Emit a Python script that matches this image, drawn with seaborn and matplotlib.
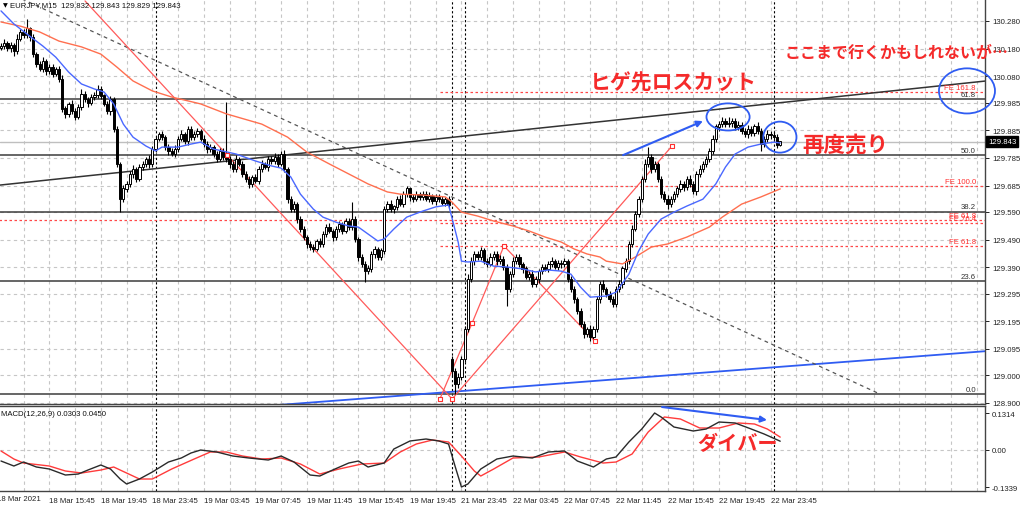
import numpy as np
import matplotlib
matplotlib.use("Agg")
import matplotlib.pyplot as plt
import matplotlib.transforms as mtrans
from matplotlib.patches import Ellipse
import seaborn as sns

# ---------------- data (EURJPY M15, bar index 0 = 18 Mar 12:00) ----------------
close = [
    130.189, 130.200, 130.182, 130.193, 130.171,
    130.214, 130.240, 130.229, 130.251, 130.222,
    130.160, 130.124, 130.106, 130.135, 130.099,
    130.113, 130.088, 130.106, 130.070, 129.962,
    129.944, 129.980, 129.954, 129.933, 129.969,
    130.016, 129.998, 129.983, 130.005, 130.012,
    130.034, 130.009, 129.980, 129.954, 129.998,
    129.889, 129.763, 129.636, 129.673, 129.691,
    129.727, 129.745, 129.709, 129.752, 129.763,
    129.781, 129.763, 129.817, 129.853, 129.871,
    129.860, 129.824, 129.810, 129.799, 129.817,
    129.853, 129.871, 129.846, 129.889, 129.860,
    129.871, 129.882, 129.853, 129.835, 129.817,
    129.824, 129.799, 129.781, 129.810, 129.788,
    129.781, 129.763, 129.745, 129.781, 129.763,
    129.727, 129.709, 129.691, 129.716, 129.701,
    129.745, 129.763, 129.752, 129.781, 129.774,
    129.788, 129.763, 129.799, 129.745, 129.636,
    129.600, 129.618, 129.564, 129.528, 129.499,
    129.474, 129.463, 129.456, 129.485, 129.474,
    129.510, 129.535, 129.521, 129.499, 129.528,
    129.546, 129.521, 129.557, 129.535, 129.564,
    129.492, 129.427, 129.402, 129.376, 129.384,
    129.438, 129.456, 129.427, 129.449, 129.600,
    129.618, 129.600, 129.608, 129.636, 129.618,
    129.654, 129.673, 129.644, 129.636, 129.654,
    129.644, 129.654, 129.636, 129.647, 129.629,
    129.644, 129.636, 129.622, 129.636, 129.615,
    129.015, 128.968, 128.993, 129.058, 129.167,
    129.347, 129.412, 129.438, 129.427, 129.449,
    129.412, 129.402, 129.427, 129.438, 129.412,
    129.420, 129.391, 129.311, 129.365, 129.412,
    129.427, 129.402, 129.384, 129.355, 129.365,
    129.329, 129.347, 129.376, 129.391, 129.384,
    129.402, 129.412, 129.391, 129.405, 129.402,
    129.412, 129.347, 129.311, 129.275, 129.232,
    129.185, 129.149, 129.167, 129.138, 129.167,
    129.275, 129.329, 129.311, 129.293, 129.275,
    129.257, 129.311, 129.329, 129.384, 129.412,
    129.474, 129.528, 129.582, 129.636, 129.709,
    129.763, 129.788, 129.745, 129.763, 129.709,
    129.654, 129.636, 129.618, 129.636, 129.654,
    129.673, 129.691, 129.680, 129.709, 129.691,
    129.665, 129.727, 129.745, 129.763, 129.781,
    129.810, 129.853, 129.897, 129.907, 129.918,
    129.907, 129.911, 129.918, 129.897, 129.904,
    129.882, 129.871, 129.889, 129.875, 129.897,
    129.882, 129.835, 129.853, 129.871, 129.868,
    129.860, 129.832, 129.843,
]
wick_hi = [
    .010, .015, .008, .012, .006, .020, .012, .010, .036, .008,
    .012, .008, .010, .015, .006, .010, .012, .008, .010, .014,
    .012, .008, .015, .010, .012, .018, .010, .008, .012, .010,
    .014, .010, .008, .012, .010, .006, .012, .008, .015, .010,
    .012, .016, .008, .010, .012, .006, .014, .010, .012, .008,
    .010, .008, .012, .010, .014, .010, .016, .008, .012, .010,
    .012, .010, .008, .014, .010, .012, .008, .010, .012, .010,
    .199, .012, .010, .014, .008, .010, .012, .010, .008, .012,
    .010, .014, .008, .012, .010, .016, .010, .012, .014, .008,
    .010, .012, .008, .010, .012, .008, .010, .012, .008, .010,
    .012, .010, .014, .008, .012, .010, .008, .012, .010, .061,
    .010, .008, .012, .010, .014, .010, .012, .008, .010, .012,
    .010, .014, .008, .012, .016, .010, .012, .008, .010, .012,
    .008, .012, .010, .014, .008, .010, .012, .010, .008, .012,
    .010, .012, .015, .010, .012, .020, .015, .012, .010, .014,
    .012, .010, .015, .012, .010, .014, .012, .010, .012, .015,
    .010, .012, .008, .012, .010, .014, .012, .008, .010, .012,
    .010, .014, .008, .012, .010, .012, .008, .010, .012, .008,
    .010, .012, .008, .014, .010, .012, .010, .014, .008, .010,
    .012, .010, .014, .010, .012, .010, .014, .012, .010, .012,
    .018, .036, .010, .012, .008, .012, .010, .014, .010, .012,
    .010, .014, .012, .010, .016, .012, .010, .014, .012, .010,
    .012, .014, .010, .012, .014, .010, .022, .012, .010, .014,
    .010, .012, .014, .010, .012, .016, .010, .012, .014, .010,
    .012, .010, .000,
]
wick_lo = [
    .008, .012, .010, .015, .018, .010, .008, .012, .010, .014,
    .010, .012, .008, .010, .014, .010, .012, .008, .010, .012,
    .014, .010, .012, .010, .008, .012, .010, .014, .008, .010,
    .010, .012, .008, .010, .014, .012, .010, .047, .010, .012,
    .010, .014, .010, .008, .012, .010, .016, .010, .012, .008,
    .012, .010, .014, .008, .010, .012, .008, .010, .014, .010,
    .010, .012, .008, .010, .014, .010, .012, .010, .008, .012,
    .010, .014, .010, .012, .008, .010, .012, .014, .010, .008,
    .012, .010, .008, .014, .010, .012, .010, .008, .012, .014,
    .012, .010, .014, .010, .012, .016, .010, .012, .008, .010,
    .010, .012, .008, .014, .010, .012, .010, .008, .012, .010,
    .012, .014, .010, .039, .012, .010, .014, .010, .012, .010,
    .012, .010, .014, .010, .008, .012, .010, .014, .010, .008,
    .010, .012, .008, .010, .012, .014, .010, .008, .012, .010,
    .020, .036, .015, .012, .010, .012, .010, .014, .012, .010,
    .010, .012, .008, .010, .014, .012, .010, .061, .012, .010,
    .012, .010, .014, .008, .012, .010, .012, .014, .010, .008,
    .010, .012, .008, .010, .014, .010, .012, .010, .014, .012,
    .012, .014, .010, .015, .012, .010, .014, .010, .012, .010,
    .010, .012, .010, .014, .010, .012, .010, .008, .012, .010,
    .012, .010, .014, .012, .010, .014, .012, .016, .010, .012,
    .012, .010, .014, .010, .012, .010, .014, .010, .012, .010,
    .010, .012, .010, .014, .010, .012, .010, .014, .010, .012,
    .012, .010, .014, .010, .012, .010, .024, .012, .010, .014,
    .010, .012, .003,
]
first_open = 130.182
gap_bar = 140            # weekend gap (Sunday open)
gap_open = 129.058

ma_fast_bar = [0, 4, 8, 13, 17, 21, 25, 29, 32, 35, 38, 41, 45, 48, 50, 55, 59, 62, 66, 73,
               79, 84, 87, 90, 93, 97, 100, 104, 108, 111, 114, 117, 119, 122, 126, 131, 135, 139, 140, 142,
               143, 145, 149, 153, 157, 162, 166, 170, 174, 177, 180, 183, 188, 191, 195, 198, 201, 205, 209, 213,
               218, 222, 225, 228, 232, 236, 240, 242]
ma_fast_val = [130.316, 130.269, 130.233, 130.189, 130.149, 130.095, 130.052, 130.034, 130.023, 129.980,
               129.907, 129.860, 129.828, 129.810, 129.824, 129.824, 129.835, 129.842, 129.817, 129.799,
               129.774, 129.756, 129.748, 129.716, 129.654, 129.600, 129.571, 129.553, 129.539, 129.535,
               129.510, 129.485, 129.492, 129.528, 129.571, 129.593, 129.608, 129.615, 129.571, 129.480,
               129.412, 129.409, 129.412, 129.394, 129.391, 129.384, 129.373, 129.380, 129.376, 129.365,
               129.318, 129.282, 129.286, 129.300, 129.365, 129.448, 129.510, 129.564, 129.589, 129.611,
               129.636, 129.691, 129.752, 129.799, 129.824, 129.835, 129.842, 129.839]
ma_slow_bar = [0, 6, 12, 18, 25, 31, 36, 41, 47, 53, 62, 70, 81, 89, 95, 102, 108, 114, 120, 124,
               131, 138, 140, 143, 148, 153, 159, 164, 169, 174, 178, 182, 186, 188, 193, 197, 202, 207, 213, 220,
               224, 230, 236, 242]
ma_slow_val = [130.276, 130.261, 130.240, 130.207, 130.186, 130.160, 130.113, 130.063, 130.027, 130.005,
               129.980, 129.944, 129.907, 129.860, 129.806, 129.763, 129.727, 129.691, 129.662, 129.654,
               129.651, 129.644, 129.626, 129.589, 129.575, 129.557, 129.539, 129.521, 129.499, 129.481,
               129.456, 129.438, 129.427, 129.412, 129.402, 129.427, 129.463, 129.474, 129.499, 129.535,
               129.571, 129.618, 129.644, 129.673]

macd_bar = [0, 4, 7, 11, 15, 20, 24, 27, 31, 34, 37, 39, 43, 47, 52, 56, 59, 62, 67, 72,
            77, 83, 87, 91, 96, 99, 103, 108, 111, 114, 119, 122, 127, 132, 136, 139, 141, 143, 145, 149,
            154, 159, 165, 170, 175, 179, 184, 188, 191, 195, 199, 203, 205, 209, 215, 219, 223, 228, 233, 237,
            242]
macd_val = [-0.0407, -0.0586, -0.0443, -0.0622, -0.0694, -0.0909, -0.0873, -0.0730, -0.0550, -0.0694,
            -0.1052, -0.1231, -0.1052, -0.0801, -0.0443, -0.0299, -0.0120, -0.0013, -0.0084, -0.0228,
            -0.0299, -0.0371, -0.0228, -0.0443, -0.0909, -0.0945, -0.0730, -0.0479, -0.0407, -0.0622,
            -0.0479, 0.0023, 0.0310, 0.0382, 0.0310, 0.0203, -0.0586, -0.1339, -0.1231, -0.0694,
            -0.0335, -0.0228, -0.0299, -0.0084, -0.0048, -0.0407, -0.0622, -0.0335, -0.0263, 0.0274,
            0.0740, 0.1314, 0.1171, 0.0812, 0.0669, 0.0740, 0.0991, 0.0956, 0.0740, 0.0561,
            0.0303]
signal_bar = [0, 4, 7, 15, 20, 25, 31, 35, 39, 43, 47, 53, 60, 65, 70, 75, 81, 87, 93, 99,
              105, 112, 119, 124, 129, 134, 139, 143, 147, 149, 153, 159, 167, 175, 180, 187, 191, 196, 201, 206,
              211, 217, 223, 229, 234, 238, 242]
signal_val = [-0.0048, -0.0335, -0.0479, -0.0586, -0.0765, -0.0837, -0.0730, -0.0622, -0.0837, -0.1052,
              -0.1052, -0.0694, -0.0335, -0.0084, -0.0084, -0.0228, -0.0335, -0.0299, -0.0515, -0.0873,
              -0.0694, -0.0515, -0.0479, -0.0084, 0.0203, 0.0346, 0.0274, -0.0228, -0.0765, -0.0945,
              -0.0694, -0.0299, -0.0263, -0.0084, -0.0263, -0.0479, -0.0443, -0.0156, 0.0633, 0.1171,
              0.1099, 0.0776, 0.0776, 0.0956, 0.0920, 0.0740, 0.0450]

price_ticks = [130.280, 130.180, 130.080, 129.985, 129.885, 129.785, 129.685, 129.590,
               129.490, 129.390, 129.295, 129.195, 129.095, 129.000, 128.900]
macd_ticks = [0.1314, 0.0, -0.1339]
macd_tick_labels = ["0.1314", "0.00", "-0.1339"]
time_tick_bars = [15, 31, 47, 63, 79, 95, 111, 127, 143, 159, 175, 191, 207, 223, 239]
time_tick_labels = ["18 Mar 15:45", "18 Mar 19:45", "18 Mar 23:45", "19 Mar 03:45", "19 Mar 07:45",
                    "19 Mar 11:45", "19 Mar 15:45", "19 Mar 19:45", "21 Mar 23:45", "22 Mar 03:45",
                    "22 Mar 07:45", "22 Mar 11:45", "22 Mar 15:45", "22 Mar 19:45", "22 Mar 23:45"]
first_date_label = "18 Mar 2021"
separator_bars = [48, 140, 144, 240]
grid_bars = list(range(7, 306, 8))
bid_price = 129.843

fib_names = ["0.0", "23.6", "38.2", "50.0", "61.8"]
fib_prices = [128.932, 129.339, 129.591, 129.794, 129.998]
fe_names = ["FE 161.8", "FE 100.0", "FE 61.8", "FE 76.4", "FE 61.8"]
fe_prices = [130.024, 129.682, 129.562, 129.550, 129.468]
fe_start = [136.3, 136.3, -1.0, 136.3, 136.3]

trend_black = ([-1.0, 306.0], [129.686, 130.063])
trend_blue = ([85.7, 306.0], [128.892, 129.087])
trend_dash = ([0.0, 272.4], [130.394, 128.935])
fe_path_a = ([26.1, 140.1], [130.352, 128.914])
fe_path_b = ([136.3, 146.3, 156.2, 184.5], [128.914, 129.188, 129.467, 129.123])
fe_path_c = ([140.1, 208.4], [128.914, 129.828])
fe_marks = ([70.2, 136.3, 140.1, 146.3, 156.2, 184.5, 208.4],
            [129.795, 128.914, 128.914, 129.188, 129.467, 129.123, 129.828])

arrow_price = ((193.2, 129.795), (218.0, 129.918))
arrow_macd = ((205.3, 0.1529), (237.9, 0.1063))
ellipses = [((225.8, 129.933), 13.4, 0.098), ((241.9, 129.860), 10.3, 0.112),
            ((300.0, 130.027), 17.4, 0.163)]
notes = [("ヒゲ先ロスカット", 182.9, 130.059, 15.0),
         ("ここまで行くかもしれないが…", 243.5, 130.168, 11.5),
         ("再度売り", 248.8, 129.835, 15.5)]
macd_note = ("ダイバー", 216.1, 0.0239, 14.5)

title_text = "EURJPY,M15  129.832 129.843 129.829 129.843"
macd_title = "MACD(12,26,9) 0.0303 0.0450"

# ---------------- styling ----------------
sns.set_theme(style="white")
plt.rcParams['font.family'] = ['Liberation Sans', 'DejaVu Sans']
plt.rcParams['axes.unicode_minus'] = False

RED = "#f52a2a"
BLUE = "#2f5cf2"
GRID = "#c6c6c6"
FS = 5.6
JP = ['Noto Sans CJK JP', 'DejaVu Sans']

W, H = 1024, 510
fig = plt.figure(figsize=(W / 100, H / 100), dpi=100)
fig.patch.set_facecolor("white")
ax = fig.add_axes([0, (H - 405) / H, 985 / W, 405 / H])
axm = fig.add_axes([0, (H - 492) / H, 985 / W, 85 / H])

X0, X1 = -0.31, 305.6
for a in (ax, axm):
    a.set_xlim(X0, X1)
    a.set_facecolor("white")
ax.set_ylim(128.896, 130.359)
axm.set_ylim(-0.1482, 0.1565)

# grid + separators
for a in (ax, axm):
    lo_, hi_ = a.get_ylim()
    a.vlines(grid_bars, lo_, hi_, colors=GRID, linestyles=(0, (3, 3)), lw=0.8, zorder=0)
    a.vlines(separator_bars, lo_, hi_, colors="black", linestyles=(0, (2, 2)), lw=0.8, zorder=1)
ax.hlines(price_ticks, X0, X1, colors=GRID, linestyles=(0, (3, 3)), lw=0.8, zorder=0)
axm.hlines([0.0], X0, X1, colors=GRID, linestyles=(0, (3, 3)), lw=0.8, zorder=0)

# bid line, fibonacci retracement, fibonacci expansion levels
ax.axhline(bid_price, color="#bfbfbf", lw=1.0, zorder=1)
ax.hlines(fib_prices, X0, X1, colors="#3c3c3c", lw=1.1, zorder=2)
for n_, p_ in zip(fib_names, fib_prices):
    ax.text(302.8, p_ + 0.004, n_, ha="right", va="bottom", fontsize=FS, color="#333333", zorder=6)
for n_, p_, s_ in zip(fe_names, fe_prices, fe_start):
    ax.hlines(p_, s_, X1, colors="#ff4848", linestyles=(0, (2, 2)), lw=0.9, zorder=2)
    ax.text(302.8, p_ + 0.004, n_, ha="right", va="bottom", fontsize=FS, color="#ff3030", zorder=6)

# trend lines
ax.plot(*trend_black, color="#333333", lw=1.1, zorder=2)
ax.plot(*trend_blue, color=BLUE, lw=1.3, zorder=2)
ax.plot(*trend_dash, color="#555555", lw=0.9, ls=(0, (3, 3)), zorder=2)
for path in (fe_path_a, fe_path_b, fe_path_c):
    ax.plot(*path, color="#ff5a5a", lw=0.9, zorder=2)
ax.scatter(*fe_marks, marker="s", s=10, facecolors="white", edgecolors="#ff3030", linewidths=0.8, zorder=7)

# candlesticks
c = np.array(close)
o = np.r_[first_open, c[:-1]]
o[gap_bar] = gap_open
hi = np.maximum(o, c) + np.array(wick_hi)
lo = np.minimum(o, c) - np.array(wick_lo)
bars = np.arange(len(c))
up = c >= o
ax.vlines(bars, lo, hi, colors="black", lw=0.8, zorder=3)
ax.bar(bars[up], (c - o)[up] + 0.0015, bottom=o[up], width=0.7, color="white",
       edgecolor="black", linewidth=0.7, zorder=4)
ax.bar(bars[~up], (o - c)[~up] + 0.0015, bottom=c[~up], width=0.7, color="black",
       edgecolor="black", linewidth=0.7, zorder=4)

# moving averages
sns.lineplot(x=ma_slow_bar, y=ma_slow_val, ax=ax, color="#ff6f4f", lw=1.0, zorder=5)
sns.lineplot(x=ma_fast_bar, y=ma_fast_val, ax=ax, color="#4a68ff", lw=1.0, zorder=5)

# MACD
sns.lineplot(x=macd_bar, y=macd_val, ax=axm, color="#2a2a2a", lw=1.0, zorder=4)
sns.lineplot(x=signal_bar, y=signal_val, ax=axm, color="#ff3b3b", lw=1.0, zorder=3)

# annotations
for (cxy, w_, h_) in ellipses:
    ax.add_patch(Ellipse(cxy, w_, h_, fill=False, edgecolor=BLUE, lw=1.3, zorder=8, clip_on=False))
ax.annotate("", xy=arrow_price[1], xytext=arrow_price[0],
            arrowprops=dict(arrowstyle="-|>", color=BLUE, lw=1.5, mutation_scale=9, shrinkA=0, shrinkB=0),
            zorder=8)
axm.annotate("", xy=arrow_macd[1], xytext=arrow_macd[0],
             arrowprops=dict(arrowstyle="-|>", color=BLUE, lw=1.5, mutation_scale=9, shrinkA=0, shrinkB=0),
             zorder=8)
for t_, bx, py, fs in notes:
    ax.text(bx, py, t_, ha="left", va="center", fontsize=fs, color=RED, fontweight="bold",
            family=JP, zorder=9, clip_on=False)
axm.text(macd_note[1], macd_note[2], macd_note[0], ha="left", va="center", fontsize=macd_note[3],
         color=RED, fontweight="bold", family=JP, zorder=9)

# axes, ticks, labels
for a in (ax, axm):
    a.yaxis.tick_right()
    a.tick_params(axis="y", length=3, width=0.7, pad=2, labelsize=FS, colors="#222222")
    for s in a.spines.values():
        s.set_color("#444444")
        s.set_linewidth(1.0)
    a.spines["left"].set_visible(False)
    a.set_xlabel("")
    a.set_ylabel("")
ax.spines["top"].set_visible(False)
ax.set_yticks(price_ticks)
ax.set_yticklabels([f"{p:.3f}" for p in price_ticks])
ax.set_xticks([])
axm.set_yticks(macd_ticks)
axm.set_yticklabels(macd_tick_labels)
axm.set_xticks(time_tick_bars)
axm.set_xticklabels(time_tick_labels, ha="left")
axm.tick_params(axis="x", length=3, width=0.7, pad=1.5, labelsize=FS, colors="#222222")

trans = mtrans.blended_transform_factory(ax.transAxes, ax.transData)
ax.text(1.0 + 3 / 985, bid_price, "129.843", transform=trans, ha="left", va="center", fontsize=FS,
        color="white", bbox=dict(boxstyle="square,pad=0.25", facecolor="black", edgecolor="black"),
        clip_on=False, zorder=10)

fig.text(3 / W, 1 - 6 / H, "▼", fontsize=4.5, ha="left", va="center", color="black",
         family=['DejaVu Sans'])
fig.text(10 / W, 1 - 6 / H, title_text, fontsize=FS, ha="left", va="center", color="#111111")
fig.text(1 / W, 1 - 415 / H, macd_title, fontsize=FS, ha="left", va="center", color="#111111")
fig.text(-3 / W, 1 - 500 / H, first_date_label, fontsize=FS, ha="left", va="center", color="#222222")

fig.savefig("out.png", dpi=100, facecolor="white")
